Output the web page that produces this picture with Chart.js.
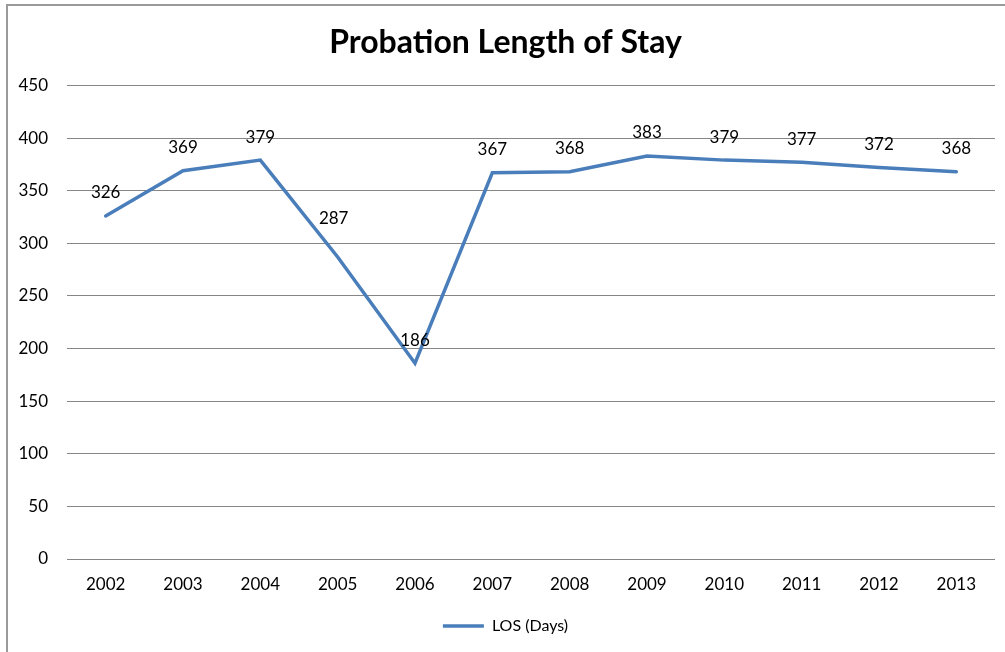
<!DOCTYPE html>
<html>
<head>
<meta charset="utf-8">
<script src="https://cdn.jsdelivr.net/npm/chart.js@4/dist/chart.umd.min.js"></script>
<style>
  html, body { margin: 0; padding: 0; background: #fff; overflow: hidden; }
  #frame {
    position: absolute; left: 6px; top: 4px; width: 1100px; height: 700px;
    border-left: 2px solid #9a9a9a; border-top: 2px solid #9a9a9a;
  }
  #losChart { position: absolute; left: 0; top: 0; }
</style>
</head>
<body>
<div id="frame"></div>
<canvas id="losChart" width="1005" height="652"></canvas>
<script>
// Longueur moyenne de séjour en probation, par année
const years = ['2002', '2003', '2004', '2005', '2006', '2007', '2008', '2009', '2010', '2011', '2012', '2013'];
const losDays = [326, 369, 379, 287, 186, 367, 368, 383, 379, 377, 372, 368];
const yTicks = [0, 50, 100, 150, 200, 250, 300, 350, 400, 450];

const FONT = 'Lato, "Open Sans", sans-serif';

// Affiche la valeur au-dessus de chaque point
const valueLabels = {
    id: 'valueLabels',
    afterDatasetsDraw(chart, args, opts) {
        const ctx = chart.ctx;
        const meta = chart.getDatasetMeta(0);
        const values = chart.data.datasets[0].data;
        ctx.save();
        ctx.font = opts.size + 'px ' + FONT;
        ctx.fillStyle = '#000';
        ctx.textAlign = 'center';
        ctx.textBaseline = 'middle';
        meta.data.forEach((pt, i) => {
            const shift = opts.shift[i] || [0, 0];
            ctx.fillText(String(values[i]), pt.x + shift[0], pt.y - opts.offset + shift[1]);
        });
        ctx.restore();
    }
};

const ctx = document.getElementById('losChart').getContext('2d');
new Chart(ctx, {
    type: 'line',
    data: {
        labels: years,
        datasets: [{
            label: 'LOS (Days)',
            data: losDays,
            borderColor: '#4A7EBB',
            backgroundColor: '#4A7EBB',
            borderWidth: 3.5,
            borderCapStyle: 'round',
            tension: 0,
            pointRadius: 0,
            pointStyle: 'line'
        }]
    },
    options: {
        responsive: false,
        animation: false,
        layout: { padding: { left: 16, right: 10, top: 0, bottom: 8 } },
        plugins: {
            title: {
                display: true,
                text: 'Probation Length of Stay',
                color: '#000',
                font: { family: FONT, size: 32, weight: 'bold', lineHeight: 1.2 },
                padding: { top: 23, bottom: 24 }
            },
            legend: {
                position: 'bottom',
                labels: {
                    color: '#000',
                    font: { family: FONT, size: 16 },
                    usePointStyle: true,
                    pointStyleWidth: 41,
                    padding: 10
                }
            },
            tooltip: { enabled: false },
            valueLabels: { size: 17, offset: 23, shift: { 3: [-4, -15] } }
        },
        scales: {
            x: {
                offset: true,
                grid: { display: false },
                border: { display: false },
                ticks: { color: '#000', font: { family: FONT, size: 17 }, padding: 7, maxRotation: 0 },
                afterFit(scale) { scale.height = 49; }
            },
            y: {
                min: 0,
                max: 450,
                afterBuildTicks(scale) { scale.ticks = yTicks.map(v => ({ value: v })); },
                grid: { color: '#868686', lineWidth: 1, drawTicks: false },
                border: { display: false },
                ticks: { color: '#000', font: { family: FONT, size: 17 }, padding: 19 },
                afterFit(scale) { scale.width = 51; }
            }
        }
    },
    plugins: [valueLabels]
});
</script>
</body>
</html>
